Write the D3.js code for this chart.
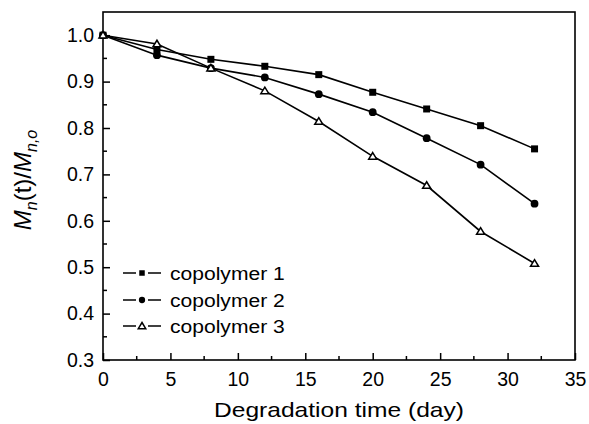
<!DOCTYPE html>
<html>
<head>
<meta charset="utf-8">
<script src="https://cdn.jsdelivr.net/npm/d3@7"></script>
<style>
  html, body { margin: 0; padding: 0; background: #fff; }
  svg { display: block; }
  text { font-family: "Liberation Sans", Arial, Helvetica, sans-serif; fill: #000; }
</style>
</head>
<body>
<svg id="chart" width="589" height="424"></svg>
<script>
// Degradation time (days) and normalised molecular weight per copolymer
const days = [0, 4, 8, 12, 16, 20, 24, 28, 32];
const copolymer1 = [1.0, 0.969, 0.948, 0.933, 0.915, 0.877, 0.841, 0.805, 0.755];
const copolymer2 = [1.0, 0.957, 0.929, 0.909, 0.873, 0.834, 0.778, 0.721, 0.637];
const copolymer3 = [1.0, 0.981, 0.929, 0.880, 0.814, 0.739, 0.676, 0.577, 0.508];
const seriesNames = ["copolymer 1", "copolymer 2", "copolymer 3"];
const symbols = ["square", "circle", "triangle"];
const xTicks = [0, 5, 10, 15, 20, 25, 30, 35];
const yTicks = [0.3, 0.4, 0.5, 0.6, 0.7, 0.8, 0.9, 1.0];

const svg = d3.select("#chart");
const plotL = 103, plotR = 575, plotT = 12, plotB = 360;

const x = d3.scaleLinear().domain([0, 35]).range([plotL, plotR]);
const y = d3.scaleLinear().domain([0.3, 1.05]).range([plotB, plotT]);

const series = [copolymer1, copolymer2, copolymer3].map((vals, i) => ({
  name: seriesNames[i], symbol: symbols[i],
  points: days.map((d, j) => ({ d, v: vals[j] }))
}));

// widen glyphs horizontally by a given factor
function widen(sel, k) {
  sel.each(function () {
    const len = this.getComputedTextLength();
    d3.select(this).attr("textLength", len * k).attr("lengthAdjust", "spacingAndGlyphs");
  });
}

// frame
svg.append("rect").attr("x", plotL).attr("y", plotT)
  .attr("width", plotR - plotL).attr("height", plotB - plotT)
  .attr("fill", "none").attr("stroke", "#000").attr("stroke-width", 1.6);

// x axis: inward ticks, minor every 2.5
const xAxis = d3.axisBottom(x).tickValues(xTicks).tickSize(-7).tickPadding(12)
  .tickFormat(d3.format("d"));
const gx = svg.append("g").attr("transform", `translate(0,${plotB})`).call(xAxis);
gx.select(".domain").remove();
gx.selectAll(".tick line").attr("stroke-width", 1.5);
gx.selectAll(".tick text").attr("font-size", 19.5).attr("font-family", "Liberation Sans, Arial, sans-serif");
const xMinor = d3.range(2.5, 35, 5);
svg.append("g").selectAll("line").data(xMinor).join("line")
  .attr("x1", d => x(d)).attr("x2", d => x(d))
  .attr("y1", plotB).attr("y2", plotB - 4)
  .attr("stroke", "#000").attr("stroke-width", 1.5);

// y axis
const yAxis = d3.axisLeft(y).tickValues(yTicks).tickSize(-7).tickPadding(9)
  .tickFormat(d3.format(".1f"));
const gy = svg.append("g").attr("transform", `translate(${plotL},0)`).call(yAxis);
gy.select(".domain").remove();
gy.selectAll(".tick line").attr("stroke-width", 1.5);
gy.selectAll(".tick text").attr("font-size", 19.5).attr("font-family", "Liberation Sans, Arial, sans-serif");
const yMinor = d3.range(0.35, 1.0, 0.1);
svg.append("g").selectAll("line").data(yMinor).join("line")
  .attr("x1", plotL).attr("x2", plotL + 4)
  .attr("y1", d => y(d)).attr("y2", d => y(d))
  .attr("stroke", "#000").attr("stroke-width", 1.5);

// axis titles
svg.append("text").attr("x", (plotL + plotR) / 2).attr("y", 417)
  .attr("text-anchor", "middle").attr("font-size", 21)
  .text("Degradation time (day)").call(widen, 1.17);

const yTitle = svg.append("text")
  .attr("transform", "translate(31,180) rotate(-90)")
  .attr("text-anchor", "middle").attr("font-size", 24);
yTitle.append("tspan").attr("font-style", "italic").text("M");
yTitle.append("tspan").attr("font-style", "italic").attr("font-size", 16).attr("dy", 6).text("n");
yTitle.append("tspan").attr("dy", -6).text("(t)/");
yTitle.append("tspan").attr("font-style", "italic").text("M");
yTitle.append("tspan").attr("font-style", "italic").attr("font-size", 16).attr("dy", 6).text("n,o");

// markers
function drawSymbol(g, type, cx, cy, s) {
  if (type === "square") {
    g.append("rect").attr("x", cx - s / 2).attr("y", cy - s / 2)
      .attr("width", s).attr("height", s).attr("fill", "#000");
  } else if (type === "circle") {
    g.append("circle").attr("cx", cx).attr("cy", cy).attr("r", s / 2 + 0.4).attr("fill", "#000");
  } else {
    const h = s * 0.9, w = s * 1.15;
    g.append("path")
      .attr("d", `M${cx},${cy - h * 0.6}L${cx + w / 2},${cy + h * 0.45}L${cx - w / 2},${cy + h * 0.45}Z`)
      .attr("fill", "#fff").attr("stroke", "#000").attr("stroke-width", 1.5)
      .attr("stroke-linejoin", "miter");
  }
}

const line = d3.line().x(p => x(p.d)).y(p => y(p.v));
series.forEach(s => {
  svg.append("path").datum(s.points).attr("d", line)
    .attr("fill", "none").attr("stroke", "#000").attr("stroke-width", 1.6);
});
series.forEach(s => {
  const g = svg.append("g");
  s.points.forEach(p => drawSymbol(g, s.symbol, x(p.d), y(p.v), 7));
});

// legend
const legY = [273, 300, 326];
series.forEach((s, i) => {
  const g = svg.append("g");
  const cy = legY[i];
  g.append("line").attr("x1", 123).attr("x2", 136).attr("y1", cy).attr("y2", cy)
    .attr("stroke", "#000").attr("stroke-width", 1.5);
  g.append("line").attr("x1", 148).attr("x2", 161).attr("y1", cy).attr("y2", cy)
    .attr("stroke", "#000").attr("stroke-width", 1.5);
  drawSymbol(g, s.symbol, 142, cy, s.symbol === "triangle" ? 6.5 : 5.5);
  g.append("text").attr("x", 170).attr("y", cy + 6.5).attr("font-size", 18)
    .text(s.name).call(widen, 1.17);
});
</script>
</body>
</html>
